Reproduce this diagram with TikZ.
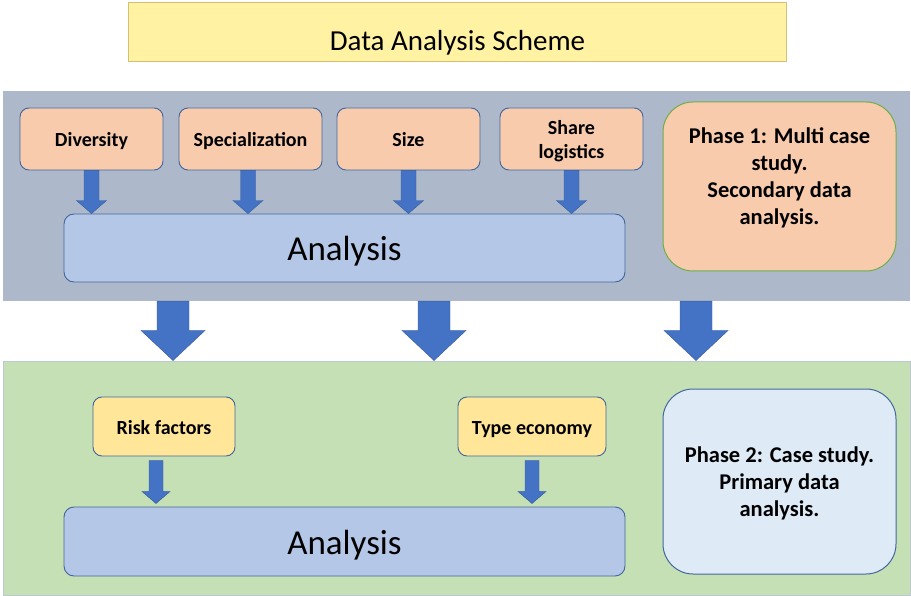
\documentclass[tikz,border=0pt]{standalone}
\usepackage{fontspec}
\setmainfont{Carlito}
\usetikzlibrary{calc}
\definecolor{panelgray}{HTML}{ADB9CA}
\definecolor{panelgreen}{HTML}{C5E0B4}
\definecolor{peach}{HTML}{F8CBAD}
\definecolor{anablue}{HTML}{B4C7E7}
\definecolor{boxline}{HTML}{41679E}
\definecolor{arrblue}{HTML}{4472C4}
\definecolor{ylw}{HTML}{FFE699}
\definecolor{titley}{HTML}{FFF2A3}
\definecolor{titleline}{HTML}{D4C074}
\definecolor{phgreen}{HTML}{70AD47}
\definecolor{lightblue}{HTML}{DEEBF7}
\tikzset{
  panel/.style={rectangle, inner sep=0pt},
  factor/.style={rectangle, rounded corners=9pt, draw=boxline, line width=0.9pt, fill=peach, inner sep=2pt, align=center, font=\fontsize{20}{24}\selectfont\bfseries, minimum width=143pt, minimum height=62pt},
  oneline/.style={text height=18pt, text depth=3pt},
  yfactor/.style={factor, fill=ylw, minimum width=142pt, minimum height=59pt},
  anabox/.style={rectangle, rounded corners=10pt, draw=boxline, line width=0.9pt, fill=anablue, minimum width=561pt, text height=30pt, text depth=4pt, font=\fontsize{35}{40}\selectfont},
  phase/.style={rectangle, rounded corners=30pt, line width=1pt, align=center, font=\fontsize{22.5}{27}\selectfont\bfseries, minimum width=233pt},
  arr/.style={fill=arrblue, draw=arrblue!80!black, line width=0.4pt}
}
% #1 start, #2 end, #3 shaft half width, #4 head half width, #5 head length
\newcommand\blockarrow[5]{%
  \path[arr] let \p1=(#1), \p2=(#2) in
    (\x1-#3,\y1) -- (\x1+#3,\y1) -- (\x1+#3,\y2+#5) -- (\x1+#4,\y2+#5) --
    (\x1,\y2) -- (\x1-#4,\y2+#5) -- (\x1-#3,\y2+#5) -- cycle;}
\begin{document}
\begin{tikzpicture}[x=1pt,y=-1pt]
\useasboundingbox (0,0) rectangle (911,596);
% title
\node[rectangle, draw=titleline, line width=1.5pt, fill=titley, minimum width=658pt, minimum height=59pt, text height=37pt, text depth=0pt, font=\fontsize{29}{32}\selectfont] (title) at (457.5,32) {Data Analysis Scheme};
% panels
\node[panel, fill=panelgray, minimum width=907pt, minimum height=210pt] (top) at (456.5,196) {};
\node[panel, fill=panelgreen, draw=panelgray!80!white, line width=1pt, minimum width=907pt, minimum height=234pt] (bot) at (456.5,478) {};
% phase 1
\node[factor, oneline] (div) at (91.5,139) {Diversity};
\node[factor, oneline] (spec) at (250.5,139) {Specialization};
\node[factor, oneline] (size) at (408.5,139) {Size};
\node[factor, text depth=-1pt] (share) at (571.5,139) {Share\\logistics};
\node[anabox, minimum height=68pt] (ana1) at (344.5,248) {Analysis};
\node[phase, draw=phgreen, fill=peach, minimum height=169pt, text depth=20pt] (ph1) at (779.5,186.5) {Phase 1: Multi case\\study.\\Secondary data\\analysis.};
% phase 2
\node[yfactor, oneline] (risk) at (164,426.5) {Risk factors};
\node[yfactor, oneline, minimum width=148pt] (type) at (532,426.5) {Type economy};
\node[anabox, minimum height=69pt] (ana2) at (344.5,541.5) {Analysis};
\node[phase, draw=boxline, fill=lightblue, minimum height=185pt, text depth=-2pt] (ph2) at (779.5,481.5) {Phase 2: Case study.\\Primary data\\analysis.};
% small arrows phase 1
\blockarrow{div.south}{div.south |- ana1.north}{7.5}{15}{13}
\blockarrow{$(spec.south)+(-2.5,0)$}{$(spec.south |- ana1.north)+(-2.5,0)$}{7.5}{15}{13}
\blockarrow{size.south}{size.south |- ana1.north}{7.5}{15}{13}
\blockarrow{share.south}{share.south |- ana1.north}{7.5}{15}{13}
% big arrows
\coordinate (b1) at (173,0);
\coordinate (b2) at (434,0);
\coordinate (b3) at (696,0);
\blockarrow{b1 |- top.south}{b1 |- bot.north}{16}{32}{30}
\blockarrow{b2 |- top.south}{b2 |- bot.north}{16}{32}{30}
\blockarrow{b3 |- top.south}{b3 |- bot.north}{16}{32}{30}
% small arrows phase 2
\blockarrow{$(risk.south)+(-8,4)$}{$(risk.south |- ana2.north)+(-8,-3)$}{7}{14}{12}
\blockarrow{$(type.south)+(0,4)$}{$(type.south |- ana2.north)+(0,-3)$}{7}{14}{12}
\end{tikzpicture}
\end{document}
